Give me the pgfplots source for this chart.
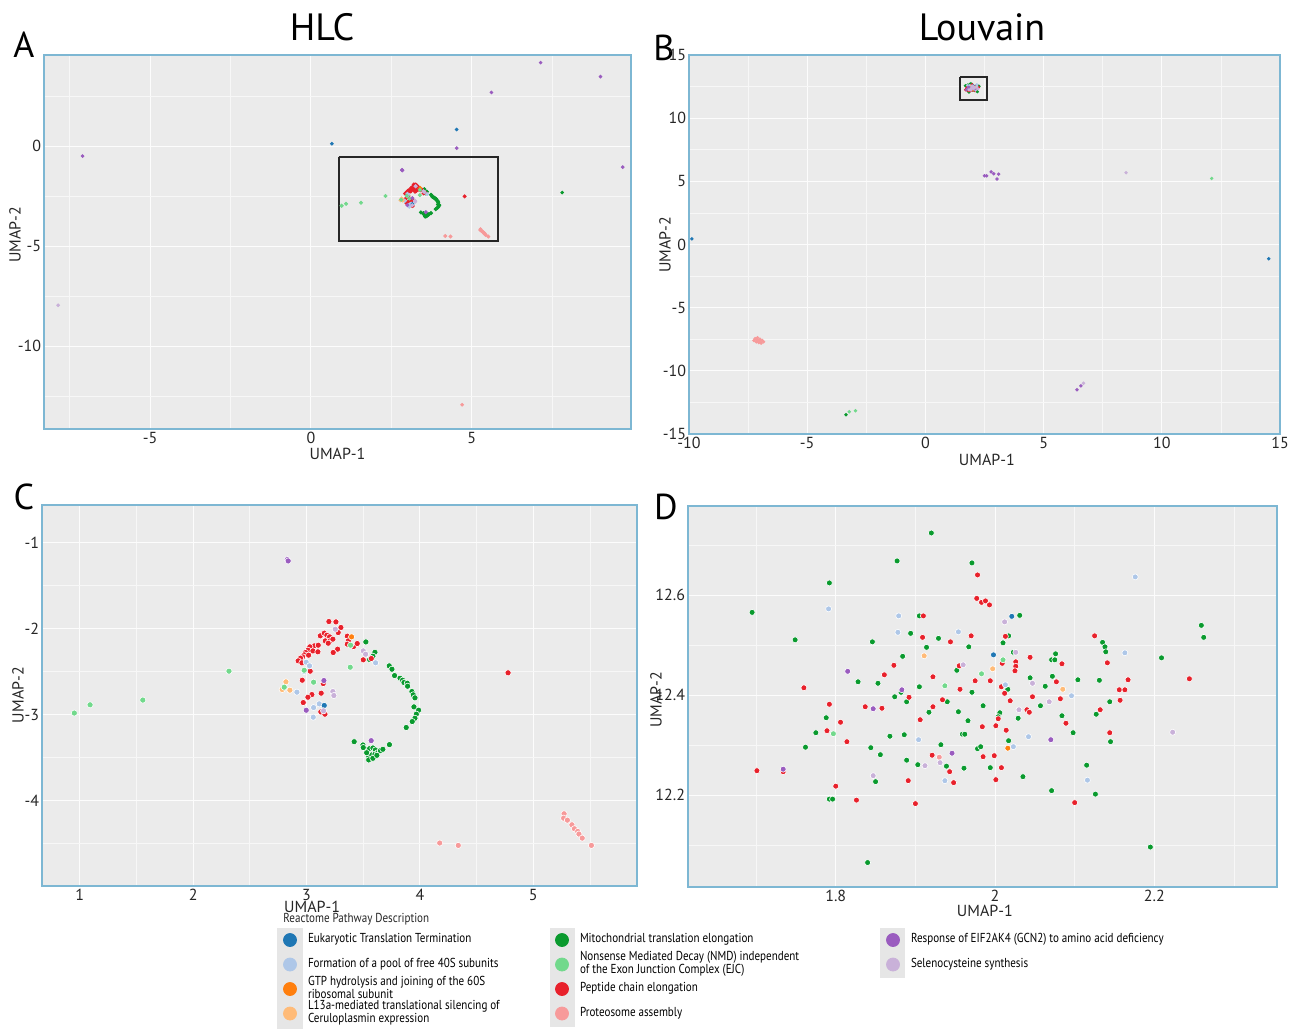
\documentclass[border=0pt]{standalone}
\usepackage{pgfplots}
\pgfplotsset{compat=1.18}
\usepackage{pgfplotstable}
\usepackage{fontspec}
\setmainfont{PT Sans}
\newfontfamily\legfont[FakeStretch=0.85]{PT Sans}

\definecolor{cEuk}{HTML}{1F77B4}
\definecolor{cForm}{HTML}{AEC7E8}
\definecolor{cGTP}{HTML}{FF7F0E}
\definecolor{cL13}{HTML}{FFBB78}
\definecolor{cMito}{HTML}{0A9A2E}
\definecolor{cNMD}{HTML}{72D98C}
\definecolor{cPep}{HTML}{E8212B}
\definecolor{cProt}{HTML}{F79A9A}
\definecolor{cResp}{HTML}{9A5CBF}
\definecolor{cSel}{HTML}{C9B1D9}
\definecolor{bgGray}{HTML}{EBEBEB}
\definecolor{axBlue}{HTML}{7DB7D3}
\definecolor{legGray}{HTML}{E6E6E6}

% ---------------- data ----------------
\pgfplotstableread{
x y c
7.14 4.17 LP
9.00 3.47 LP
5.61 2.68 LP
4.53 0.83 EB
0.65 0.12 EB
4.53 -0.10 LP
-7.10 -0.50 LP
9.69 -1.05 LP
7.81 -2.32 G
-7.86 -7.95 LS
4.70 -12.92 PK
}\tabAout

\pgfplotstableread{
x y c
-9.88 0.45 EB
14.52 -1.13 EB
2.50 5.44 LP
2.59 5.44 LP
2.78 5.75 LP
2.89 5.60 LP
3.03 5.18 LP
3.10 5.57 LP
8.49 5.68 LS
12.11 5.23 LG
-7.20 -7.45 PK
-7.10 -7.55 PK
-7.00 -7.50 PK
-6.90 -7.60 PK
-7.15 -7.70 PK
-7.05 -7.75 PK
-6.95 -7.80 PK
-7.25 -7.60 PK
-6.85 -7.70 PK
-7.00 -7.65 PK
-7.10 -7.38 PK
-3.36 -13.47 G
-3.22 -13.24 LG
-2.96 -13.16 LG
6.41 -11.50 LP
6.58 -11.19 LP
6.69 -10.98 LS
}\tabBout

\pgfplotstableread{
x y c
3.523 -2.152 G
3.603 -2.272 G
3.585 -2.318 G
3.556 -2.357 G
3.729 -2.430 G
3.753 -2.469 G
3.776 -2.543 G
3.824 -2.574 G
3.847 -2.597 G
3.859 -2.624 G
3.888 -2.632 G
3.891 -2.667 G
3.929 -2.729 G
3.941 -2.767 G
3.956 -2.802 G
3.947 -2.907 G
3.988 -2.946 G
3.968 -2.992 G
3.956 -3.039 G
3.932 -3.078 G
3.879 -3.147 G
3.420 -3.312 G
3.497 -3.350 G
3.519 -3.400 G
3.556 -3.393 G
3.585 -3.385 G
3.607 -3.408 G
3.548 -3.486 G
3.574 -3.466 G
3.603 -3.458 G
3.629 -3.439 G
3.651 -3.416 G
3.673 -3.400 G
3.731 -3.346 G
3.548 -3.524 G
3.585 -3.505 G
3.530 -3.440 G
3.620 -3.470 G
3.500 -3.380 G
3.197 -1.915 R
3.259 -1.919 R
3.303 -1.984 R
3.279 -2.043 R
3.121 -2.081 R
3.156 -2.050 R
3.179 -2.074 R
3.203 -2.093 R
3.165 -2.140 R
3.206 -2.140 R
3.232 -2.120 R
3.191 -2.167 R
3.068 -2.198 R
3.103 -2.190 R
3.029 -2.209 R
3.012 -2.248 R
3.056 -2.256 R
3.100 -2.267 R
2.991 -2.275 R
2.979 -2.302 R
3.018 -2.306 R
2.965 -2.326 R
2.947 -2.341 R
2.926 -2.372 R
2.959 -2.395 R
3.274 -2.236 R
3.235 -2.275 R
3.359 -2.085 R
3.368 -2.140 R
3.359 -2.178 R
3.415 -2.205 R
3.447 -2.171 R
3.500 -2.360 R
3.571 -2.345 R
3.032 -2.492 R
2.962 -2.597 R
3.129 -2.748 R
3.047 -2.764 R
3.012 -2.795 R
2.971 -2.857 R
3.126 -2.965 R
3.162 -2.992 R
3.147 -2.636 R
4.777 -2.511 R
2.915 -2.736 LB
2.997 -2.388 LB
3.026 -2.430 LB
2.979 -2.496 LB
3.062 -2.915 LB
3.059 -3.027 LB
3.112 -2.872 LB
3.609 -2.395 LB
3.156 -2.891 EB
3.397 -2.093 O
2.818 -2.616 LO
2.785 -2.705 LO
2.853 -2.713 LO
3.388 -2.190 LG
3.385 -2.446 LG
3.062 -2.620 LG
2.803 -2.678 LG
2.979 -2.481 LG
2.316 -2.492 LG
1.556 -2.828 LG
1.091 -2.883 LG
0.952 -2.979 LG
2.830 -1.195 LP
2.838 -1.210 LP
3.153 -2.601 LP
2.997 -2.946 LP
3.570 -3.300 LP
3.232 -2.729 LS
3.241 -2.775 LS
3.253 -2.004 LS
3.500 -2.256 LS
3.521 -2.295 LS
3.150 -2.953 LS
4.174 -4.490 PK
4.338 -4.518 PK
5.271 -4.150 PK
5.267 -4.201 PK
5.300 -4.224 PK
5.340 -4.278 PK
5.362 -4.324 PK
5.391 -4.355 PK
5.402 -4.386 PK
5.431 -4.433 PK
5.512 -4.518 PK
}\tabC

\pgfplotstableread{
x y c
1.920 12.725 G
1.877 12.669 G
1.971 12.665 G
1.792 12.625 G
1.695 12.566 G
1.905 12.559 G
2.031 12.560 G
1.749 12.511 G
1.894 12.524 G
1.929 12.514 G
2.017 12.519 G
2.259 12.540 G
2.262 12.516 G
1.846 12.507 G
1.914 12.496 G
1.967 12.497 G
2.010 12.505 G
2.135 12.506 G
2.138 12.497 G
2.139 12.487 G
2.023 12.486 G
1.884 12.478 G
2.209 12.475 G
2.076 12.483 G
2.071 12.471 G
2.075 12.471 G
1.952 12.450 G
2.044 12.435 G
2.072 12.438 G
1.828 12.427 G
1.853 12.424 G
2.104 12.431 G
2.131 12.430 G
1.905 12.417 G
1.971 12.406 G
2.016 12.412 G
2.063 12.418 G
1.882 12.406 G
1.874 12.397 G
1.940 12.387 G
2.144 12.387 G
1.889 12.387 G
1.985 12.379 G
2.057 12.379 G
1.917 12.366 G
1.954 12.367 G
2.006 12.365 G
2.004 12.357 G
2.029 12.354 G
2.084 12.359 G
2.127 12.362 G
1.788 12.355 G
1.966 12.349 G
1.775 12.325 G
1.886 12.321 G
1.868 12.318 G
1.959 12.322 G
1.962 12.322 G
2.098 12.325 G
1.762 12.296 G
1.844 12.295 G
1.932 12.301 G
1.978 12.293 G
1.982 12.297 G
2.017 12.309 G
2.145 12.307 G
1.856 12.281 G
1.889 12.270 G
1.903 12.261 G
1.939 12.258 G
1.961 12.254 G
1.994 12.255 G
2.115 12.260 G
1.850 12.227 G
2.035 12.237 G
2.071 12.209 G
2.126 12.202 G
1.792 12.192 G
1.796 12.192 G
2.195 12.096 G
1.840 12.065 G
1.978 12.641 R
1.977 12.594 R
1.983 12.586 R
1.988 12.589 R
1.993 12.581 R
1.910 12.559 R
1.909 12.516 R
1.970 12.519 R
2.013 12.518 R
2.125 12.519 R
1.944 12.507 R
2.044 12.476 R
2.084 12.463 R
2.026 12.467 R
2.026 12.458 R
2.025 12.449 R
2.009 12.464 R
2.141 12.465 R
1.873 12.460 R
1.955 12.459 R
1.861 12.441 R
2.167 12.431 R
2.244 12.433 R
1.922 12.437 R
1.975 12.429 R
1.994 12.429 R
2.077 12.427 R
1.760 12.415 R
1.956 12.412 R
2.008 12.417 R
2.012 12.404 R
2.156 12.411 R
2.163 12.411 R
1.892 12.396 R
1.934 12.391 R
2.019 12.389 R
2.047 12.397 R
2.082 12.393 R
2.157 12.390 R
1.792 12.382 R
1.837 12.377 R
1.858 12.374 R
1.922 12.377 R
2.040 12.371 R
2.043 12.366 R
2.132 12.371 R
1.806 12.346 R
1.906 12.351 R
1.984 12.337 R
2.001 12.339 R
2.004 12.353 R
2.089 12.344 R
1.789 12.329 R
2.014 12.330 R
2.144 12.325 R
1.814 12.307 R
1.921 12.280 R
1.985 12.277 R
1.999 12.279 R
2.008 12.255 R
1.701 12.249 R
1.734 12.247 R
1.943 12.247 R
1.891 12.229 R
1.948 12.225 R
2.001 12.231 R
1.800 12.218 R
1.826 12.190 R
1.900 12.183 R
2.100 12.185 R
2.021 12.558 EB
1.998 12.481 EB
2.176 12.637 LB
1.791 12.573 LB
1.879 12.559 LB
1.878 12.526 LB
1.954 12.527 LB
2.163 12.485 LB
2.013 12.421 LB
2.096 12.399 LB
2.042 12.317 LB
1.904 12.311 LB
2.023 12.297 LB
1.937 12.229 LB
2.116 12.230 LB
2.016 12.294 O
1.911 12.479 LO
1.997 12.453 LO
2.085 12.412 LO
2.010 12.471 LG
1.983 12.443 LG
1.937 12.419 LG
1.797 12.323 LG
1.930 12.276 PK
1.815 12.448 LP
1.883 12.411 LP
1.847 12.373 LP
2.070 12.311 LP
1.946 12.284 LP
1.734 12.252 LP
2.012 12.547 LS
2.026 12.486 LS
1.960 12.461 LS
2.047 12.424 LS
2.030 12.371 LS
2.068 12.387 LS
2.223 12.326 LS
1.912 12.259 LS
1.931 12.265 LS
1.847 12.239 LS
}\tabD

\pgfplotsset{
  panel/.style={
    scale only axis,
    anchor=north west,
    axis background/.style={fill=bgGray},
    axis line style={draw=axBlue, line width=0.8pt},
    major tick length=0pt, minor tick length=0pt,
    grid=both,
    major grid style={white!85!bgGray, line width=0.5pt},
    minor grid style={white!60!bgGray, line width=0.4pt},
    tick label style={font=\fontsize{8}{9}\selectfont, text=black!85, inner sep=1.3pt},
    label style={font=\fontsize{8}{9}\selectfont, text=black!85},
    /pgf/number format/assume math mode=true,
    xlabel={UMAP-1}, ylabel={UMAP-2},
  },
  bigcls/.style={scatter/classes={
    EB={mark=*,draw=white,fill=cEuk},
    LB={mark=*,draw=white,fill=cForm},
    O={mark=*,draw=white,fill=cGTP},
    LO={mark=*,draw=white,fill=cL13},
    G={mark=*,draw=white,fill=cMito},
    LG={mark=*,draw=white,fill=cNMD},
    R={mark=*,draw=white,fill=cPep},
    PK={mark=*,draw=white,fill=cProt},
    LP={mark=*,draw=white,fill=cResp},
    LS={mark=*,draw=white,fill=cSel}}},
  smallcls/.style={scatter/classes={
    EB={mark=*,draw=cEuk,fill=cEuk},
    LB={mark=*,draw=cForm,fill=cForm},
    O={mark=*,draw=cGTP,fill=cGTP},
    LO={mark=*,draw=cL13,fill=cL13},
    G={mark=*,draw=cMito,fill=cMito},
    LG={mark=*,draw=cNMD,fill=cNMD},
    R={mark=*,draw=cPep,fill=cPep},
    PK={mark=*,draw=cProt,fill=cProt},
    LP={mark=*,draw=cResp,fill=cResp},
    LS={mark=*,draw=cSel,fill=cSel}}},
  legax/.style={
    hide axis, scale only axis, width=5pt, height=5pt,
    xmin=0, xmax=1, ymin=0, ymax=1, anchor=north west,
    legend cell align=left,
    legend style={at={(0,1)}, anchor=north west, draw=none, fill=none,
      inner sep=0pt, outer sep=0pt, row sep=0pt,
      font=\legfont\fontsize{6.5}{6.6}\selectfont,
      nodes={inner sep=0pt, text height=7.6pt, text depth=4.65pt},
      /tikz/every odd column/.append style={column sep=5.75pt}},
    legend image code/.code={\draw[##1] plot coordinates {(0pt,0pt)};},
  },
}
\newcommand{\two}[2]{\begin{tabular}[c]{@{}l@{}}#1\\#2\end{tabular}}

\begin{document}
\begin{tikzpicture}

% titles and panel letters
\node[font=\fontsize{19}{22}\selectfont] at (161pt,-13.5pt) {HLC};
\node[font=\fontsize{19}{22}\selectfont] at (491pt,-13.5pt) {Louvain};
\node[font=\fontsize{18}{20}\selectfont] at (12pt,-22.5pt) {A};
\node[font=\fontsize{18}{20}\selectfont] at (332pt,-24pt) {B};
\node[font=\fontsize{18}{20}\selectfont] at (12pt,-248.5pt) {C};
\node[font=\fontsize{18}{20}\selectfont] at (333pt,-253.5pt) {D};

% ---------- A ----------
\begin{axis}[panel, at={(22pt,-27.5pt)}, width=293.5pt, height=187pt,
  xmin=-8.3, xmax=9.95, ymin=-14.13, ymax=4.55,
  xtick={-5,0,5}, ytick={-10,-5,0},
  minor xtick={-7.5,-2.5,2.5,7.5}, minor ytick={-12.5,-7.5,-2.5,2.5},
  xlabel style={at={(axis description cs:0.5,-0.0668)}, anchor=center},
  ylabel style={at={(axis description cs:-0.0494,0.519)}, anchor=center}]
\addplot[scatter, only marks, scatter src=explicit symbolic, smallcls, mark size=0.8pt]
  table[x=x, y=y, meta=c] {\tabC};
\addplot[scatter, only marks, scatter src=explicit symbolic, smallcls, mark size=0.7pt]
  table[x=x, y=y, meta=c] {\tabAout};
\addplot[black!85, line width=1pt, mark=none, line join=miter]
  coordinates {(0.86,-0.52) (5.80,-0.52) (5.80,-4.75) (0.86,-4.75) (0.86,-0.52)};
\end{axis}

% ---------- B ----------
\begin{axis}[panel, at={(344.5pt,-27.5pt)}, width=295.5pt, height=189.5pt,
  xmin=-10, xmax=15, ymin=-15, ymax=15,
  xtick={-10,-5,0,5,10,15}, ytick={-15,-10,-5,0,5,10,15},
  minor xtick={-7.5,-2.5,2.5,7.5,12.5}, minor ytick={-12.5,-7.5,-2.5,2.5,7.5,12.5},
  xlabel style={at={(axis description cs:0.504,-0.0686)}, anchor=center},
  ylabel style={at={(axis description cs:-0.0406,0.499)}, anchor=center}]
\addplot[scatter, only marks, scatter src=explicit symbolic, smallcls, mark size=0.6pt]
  table[x=x, y=y, meta=c] {\tabD};
\addplot[scatter, only marks, scatter src=explicit symbolic, smallcls, mark size=0.65pt]
  table[x=x, y=y, meta=c] {\tabBout};
\addplot[black!85, line width=0.9pt, mark=none, line join=miter]
  coordinates {(1.48,13.29) (2.61,13.29) (2.61,11.45) (1.48,11.45) (1.48,13.29)};
\end{axis}

% ---------- C ----------
\begin{axis}[panel, at={(21pt,-252.5pt)}, width=297.5pt, height=190.5pt,
  xmin=0.667, xmax=5.914, ymin=-4.99, ymax=-0.56,
  xtick={1,2,3,4,5}, ytick={-4,-3,-2,-1},
  minor xtick={1.5,2.5,3.5,4.5,5.5}, minor ytick={-4.5,-3.5,-2.5,-1.5},
  xlabel style={at={(axis description cs:0.454,-0.0551)}, anchor=center},
  ylabel style={at={(axis description cs:-0.0403,0.501)}, anchor=center}]
\addplot[scatter, only marks, scatter src=explicit symbolic, bigcls, mark size=1.55pt, line width=0.3pt]
  table[x=x, y=y, meta=c] {\tabC};
\end{axis}

% ---------- D ----------
\begin{axis}[panel, at={(344pt,-253pt)}, width=294.5pt, height=190.5pt,
  xmin=1.6145, xmax=2.354, ymin=12.016, ymax=12.779,
  xtick={1.8,2,2.2}, ytick={12.2,12.4,12.6},
  minor xtick={1.7,1.9,2.1,2.3}, minor ytick={12.1,12.3,12.5,12.7},
  xlabel style={at={(axis description cs:0.504,-0.063)}, anchor=center},
  ylabel style={at={(axis description cs:-0.0543,0.491)}, anchor=center}]
\addplot[scatter, only marks, scatter src=explicit symbolic, bigcls, mark size=1.5pt, line width=0.3pt]
  table[x=x, y=y, meta=c] {\tabD};
\end{axis}

% ---------- legend ----------
\fill[legGray] (138.5pt,-464pt) rectangle (151.5pt,-514.5pt);
\fill[legGray] (275pt,-464pt) rectangle (287.5pt,-513.5pt);
\fill[legGray] (440pt,-464pt) rectangle (452.5pt,-489pt);
\node[anchor=west, inner sep=0pt, font=\legfont\fontsize{6.5}{7}\selectfont, text=black!85]
  at (141.5pt,-459.5pt) {Reactome Pathway Description};

\begin{axis}[legax, at={(141.75pt,-463.875pt)}]
\addlegendimage{mark=*, mark size=3.25pt, draw=cEuk, fill=cEuk}
\addlegendentry{Eukaryotic Translation Termination}
\addlegendimage{mark=*, mark size=3.25pt, draw=cForm, fill=cForm}
\addlegendentry{Formation of a pool of free 40S subunits}
\addlegendimage{mark=*, mark size=3.25pt, draw=cGTP, fill=cGTP}
\addlegendentry{\two{GTP hydrolysis and joining of the 60S}{ribosomal subunit}}
\addlegendimage{mark=*, mark size=3.25pt, draw=cL13, fill=cL13}
\addlegendentry{\two{L13a-mediated translational silencing of}{Ceruloplasmin expression}}
\end{axis}

\begin{axis}[legax, at={(277.75pt,-463.875pt)}]
\addlegendimage{mark=*, mark size=3.25pt, draw=cMito, fill=cMito}
\addlegendentry{Mitochondrial translation elongation}
\addlegendimage{mark=*, mark size=3.25pt, draw=cNMD, fill=cNMD}
\addlegendentry{\two{Nonsense Mediated Decay (NMD) independent}{of the Exon Junction Complex (EJC)}}
\addlegendimage{mark=*, mark size=3.25pt, draw=cPep, fill=cPep}
\addlegendentry{Peptide chain elongation}
\addlegendimage{mark=*, mark size=3.25pt, draw=cProt, fill=cProt}
\addlegendentry{Proteosome assembly}
\end{axis}

\begin{axis}[legax, at={(443.25pt,-463.875pt)}]
\addlegendimage{mark=*, mark size=3.25pt, draw=cResp, fill=cResp}
\addlegendentry{Response of EIF2AK4 (GCN2) to amino acid deficiency}
\addlegendimage{mark=*, mark size=3.25pt, draw=cSel, fill=cSel}
\addlegendentry{Selenocysteine synthesis}
\end{axis}

\pgfresetboundingbox
\path[use as bounding box] (0pt,0pt) rectangle (645pt,-514.5pt);
\end{tikzpicture}
\end{document}
